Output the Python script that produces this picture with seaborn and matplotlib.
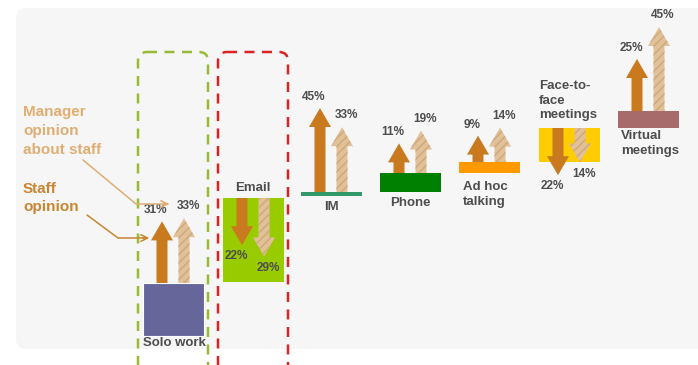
import matplotlib
matplotlib.use("Agg")
import matplotlib.pyplot as plt
from matplotlib.patches import Polygon, Rectangle, FancyBboxPatch
import seaborn as sns

# Communication channels and the share of opinions (negative = arrow points down)
channels = ["Solo work", "Email", "IM", "Phone", "Ad hoc\ntalking",
            "Face-to-\nface\nmeetings", "Virtual\nmeetings"]
staff_opinion = [31, -22, 45, 11, 9, -22, 25]
manager_opinion = [33, -29, 33, 19, 14, -14, 45]

# Layout of each channel block (pixel space, y grows downward)
box_left = [143, 223, 301, 380, 459, 539, 618]
box_top = [283, 198, 192, 173, 162, 128, 111]
box_bottom = [336, 282, 196, 192, 173, 162, 128]
box_colors = ["#67669b", "#99cc00", "#33996b", "#008000", "#ff9900", "#ffcc00", "#a86b6b"]
# label placement: (x, y, ha, va)
label_pos = [(174, 343, "center", "center"), (253, 188, "center", "center"),
             (331, 207, "center", "center"), (410, 203, "center", "center"),
             (463, 181, "left", "top"), (539, 80, "left", "top"),
             (621, 130, "left", "top")]

STAFF_COLOR = "#c97a1f"
MANAGER_COLOR = "#e0c19a"
MANAGER_HATCH = "#d3ab7b"
TEXT_COLOR = "#4d4d4d"

sns.set_theme(style="white")
plt.rcParams["font.family"] = ["Liberation Sans", "DejaVu Sans"]
plt.rcParams["hatch.linewidth"] = 1.2

fig = plt.figure(figsize=(6.98, 3.65), dpi=100)
ax = fig.add_axes([0, 0, 1, 1])
ax.set_xlim(0, 698)
ax.set_ylim(365, 0)
ax.axis("off")

# soft background panel
ax.add_patch(FancyBboxPatch((16, 8), 690, 341, boxstyle="round,pad=0,rounding_size=10",
                            facecolor="#f6f6f6", edgecolor="none", zorder=0))


def arrow_length(v):
    return 12 + 1.6 * abs(v)


def draw_arrow(x, y0, value, face, hatch=None):
    s = -1 if value > 0 else 1
    L = arrow_length(value)
    hl, hw, sw = 19, 22, 11
    yh = y0 + s * (L - hl)
    pts = [(x - sw / 2, y0), (x - sw / 2, yh), (x - hw / 2, yh), (x, y0 + s * L),
           (x + hw / 2, yh), (x + sw / 2, yh), (x + sw / 2, y0)]
    ax.add_patch(Polygon(pts, closed=True, facecolor=face, edgecolor="none", zorder=3))
    if hatch:
        ax.add_patch(Polygon(pts, closed=True, facecolor="none", edgecolor=hatch,
                             hatch="////", linewidth=0, zorder=3.1))
    return y0 + s * L, s


for i, name in enumerate(channels):
    left, top, bottom = box_left[i], box_top[i], box_bottom[i]
    ax.add_patch(Rectangle((left, top), 61, bottom - top, facecolor=box_colors[i],
                           edgecolor="white" if i == 0 else "none", linewidth=0.8, zorder=2))
    tip, s = draw_arrow(left + 19, top, staff_opinion[i], STAFF_COLOR)
    ax.text(left + 19 - 6, tip + s * 11, f"{abs(staff_opinion[i])}%", ha="center", va="center",
            fontsize=8.5, fontweight="bold", color=TEXT_COLOR, zorder=5)
    tip, s = draw_arrow(left + 41, top, manager_opinion[i], MANAGER_COLOR, MANAGER_HATCH)
    ax.text(left + 41 + 4, tip + s * 12, f"{abs(manager_opinion[i])}%", ha="center", va="center",
            fontsize=8.5, fontweight="bold", color=TEXT_COLOR, zorder=5)
    lx, ly, ha, va = label_pos[i]
    ax.text(lx, ly, name, ha=ha, va=va, fontsize=9.5, fontweight="bold", color=TEXT_COLOR,
            linespacing=1.3, zorder=5)

# highlight frames around the first two channels
for x0, col in [(138, "#99bb33"), (218, "#dd2222")]:
    ax.add_patch(FancyBboxPatch((x0, 52), 70, 330, boxstyle="round,pad=0,rounding_size=9",
                                facecolor="none", edgecolor=col, linewidth=1.8,
                                linestyle=(0, (4, 3)), zorder=4))

# legend-style callouts
ax.text(23, 131, "Manager\nopinion\nabout staff", ha="left", va="center", fontsize=11,
        fontweight="bold", color="#deae72", linespacing=1.45, zorder=5)
ax.text(23, 198, "Staff\nopinion", ha="left", va="center", fontsize=11,
        fontweight="bold", color="#c98530", linespacing=1.45, zorder=5)
ax.plot([83, 136, 168], [160, 204, 204], color="#deae72", lw=1.1, zorder=5)
ax.annotate("", xy=(172, 204), xytext=(160, 204),
            arrowprops=dict(arrowstyle="->", color="#deae72", lw=1.1), zorder=5)
ax.plot([87, 118, 146], [215, 238, 238], color="#c98530", lw=1.1, zorder=5)
ax.annotate("", xy=(152, 238), xytext=(140, 238),
            arrowprops=dict(arrowstyle="->", color="#c98530", lw=1.1), zorder=5)

fig.savefig("out.png", dpi=100, facecolor="white")
